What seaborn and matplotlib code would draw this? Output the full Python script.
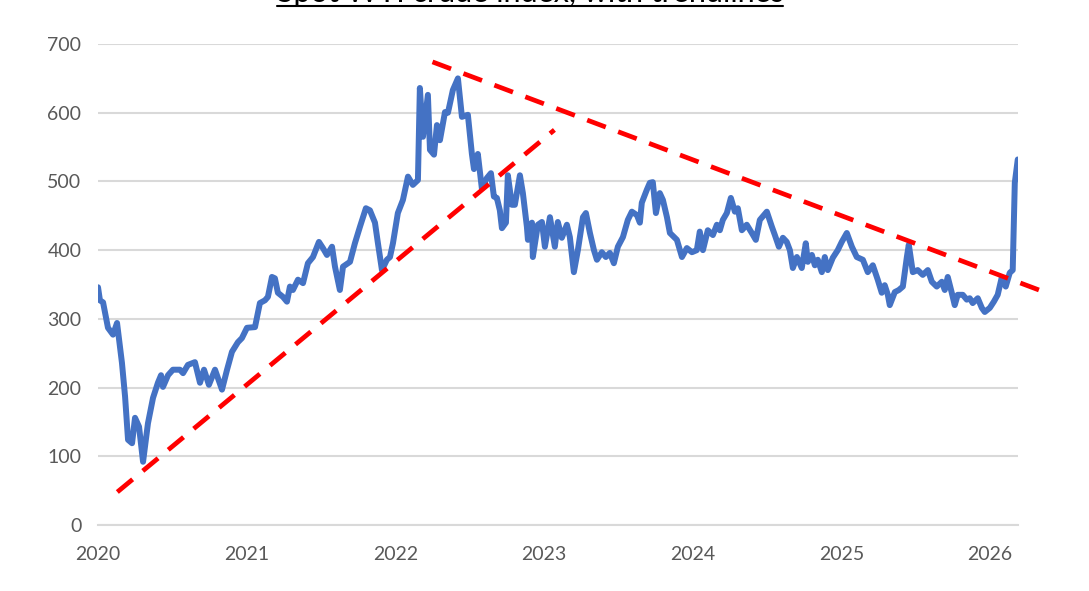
import pandas as pd
import numpy as np
import matplotlib.pyplot as plt
import seaborn as sns
from matplotlib.lines import Line2D

# --- data (decimal year, index value) ---
years = [
    2020.000, 2020.013, 2020.034, 2020.067, 2020.101, 2020.128, 2020.161, 2020.182,
    2020.202, 2020.229, 2020.249, 2020.276, 2020.303, 2020.336, 2020.370, 2020.403,
    2020.424, 2020.437, 2020.471, 2020.504, 2020.551, 2020.572, 2020.605, 2020.652,
    2020.686, 2020.713, 2020.746, 2020.787, 2020.834, 2020.868, 2020.901, 2020.941,
    2020.968, 2021.002, 2021.056, 2021.089, 2021.123, 2021.143, 2021.170, 2021.190,
    2021.210, 2021.244, 2021.271, 2021.291, 2021.311, 2021.345, 2021.379, 2021.412,
    2021.446, 2021.486, 2021.513, 2021.540, 2021.574, 2021.594, 2021.627, 2021.648,
    2021.695, 2021.728, 2021.762, 2021.802, 2021.829, 2021.863, 2021.883, 2021.910,
    2021.943, 2021.964, 2021.984, 2022.017, 2022.051, 2022.085, 2022.118, 2022.152,
    2022.165, 2022.186, 2022.219, 2022.233, 2022.260, 2022.280, 2022.300, 2022.334,
    2022.354, 2022.387, 2022.421, 2022.448, 2022.488, 2022.515, 2022.529, 2022.555,
    2022.582, 2022.616, 2022.643, 2022.663, 2022.683, 2022.703, 2022.717, 2022.744,
    2022.757, 2022.784, 2022.804, 2022.838, 2022.858, 2022.885, 2022.892, 2022.919,
    2022.925, 2022.959, 2022.986, 2023.006, 2023.040, 2023.073, 2023.093, 2023.120,
    2023.154, 2023.174, 2023.201, 2023.228, 2023.262, 2023.282, 2023.309, 2023.336,
    2023.356, 2023.389, 2023.416, 2023.443, 2023.470, 2023.497, 2023.531, 2023.564,
    2023.591, 2023.625, 2023.645, 2023.658, 2023.692, 2023.712, 2023.732, 2023.753,
    2023.779, 2023.800, 2023.827, 2023.847, 2023.894, 2023.928, 2023.961, 2023.995,
    2024.028, 2024.048, 2024.069, 2024.102, 2024.136, 2024.163, 2024.183, 2024.203,
    2024.230, 2024.257, 2024.284, 2024.304, 2024.331, 2024.364, 2024.398, 2024.425,
    2024.452, 2024.499, 2024.533, 2024.553, 2024.580, 2024.607, 2024.633, 2024.654,
    2024.674, 2024.701, 2024.734, 2024.761, 2024.775, 2024.802, 2024.822, 2024.842,
    2024.869, 2024.889, 2024.909, 2024.943, 2024.976, 2025.003, 2025.037, 2025.071,
    2025.104, 2025.145, 2025.178, 2025.212, 2025.245, 2025.272, 2025.292, 2025.313,
    2025.326, 2025.360, 2025.387, 2025.414, 2025.441, 2025.454, 2025.481, 2025.514,
    2025.548, 2025.582, 2025.609, 2025.642, 2025.676, 2025.696, 2025.716, 2025.743,
    2025.763, 2025.783, 2025.817, 2025.844, 2025.864, 2025.884, 2025.918, 2025.945,
    2025.965, 2025.999, 2026.026, 2026.052, 2026.079, 2026.106, 2026.133, 2026.153,
    2026.167, 2026.187,
]
index_values = [
    346, 327, 324, 287, 277, 294, 236, 187,
    124, 119, 156, 143, 92, 148, 185, 207,
    218, 201, 218, 226, 226, 221, 233, 237,
    207, 226, 204, 226, 197, 226, 252, 266,
    272, 287, 288, 323, 327, 332, 361, 359,
    338, 332, 325, 347, 342, 357, 352, 381,
    390, 412, 403, 393, 405, 376, 342, 376,
    383, 410, 434, 461, 458, 440, 410, 371,
    386, 390, 410, 454, 473, 507, 495, 502,
    636, 565, 626, 546, 539, 582, 560, 601,
    600, 633, 650, 594, 597, 540, 518, 540,
    490, 505, 512, 478, 476, 458, 432, 440,
    509, 466, 466, 509, 483, 434, 415, 440,
    390, 437, 441, 405, 448, 405, 441, 418,
    437, 419, 368, 400, 448, 454, 425, 400,
    386, 397, 390, 396, 381, 405, 419, 444,
    456, 451, 440, 469, 488, 498, 499, 454,
    483, 473, 448, 425, 415, 390, 403, 397,
    400, 427, 400, 429, 422, 437, 429, 444,
    454, 476, 456, 461, 429, 437, 425, 415,
    444, 456, 434, 422, 405, 418, 412, 400,
    374, 390, 374, 410, 383, 393, 378, 386,
    368, 390, 371, 389, 400, 412, 425, 405,
    390, 386, 368, 378, 357, 338, 349, 335,
    320, 339, 342, 347, 390, 408, 368, 371,
    364, 371, 354, 347, 354, 342, 361, 338,
    320, 335, 335, 328, 330, 323, 330, 316,
    310, 316, 325, 335, 360, 347, 367, 371,
    498, 532,
]

# trendline end points
rising_x = [2020.13, 2023.07]
rising_y = [48, 575]
falling_x = [2022.25, 2026.33]
falling_y = [674, 342]

title_text = "Spot WTI crude index, with trendlines"
year_ticks = [2020, 2021, 2022, 2023, 2024, 2025, 2026]
value_ticks = [0, 100, 200, 300, 400, 500, 600, 700]

df = pd.DataFrame({"year": years, "index": index_values})

sns.set_style("white")
plt.rcParams["font.family"] = ["Lato", "DejaVu Sans"]

fig = plt.figure(figsize=(10.89, 5.91), dpi=100)
ax = fig.add_axes([0.09, 0.1117, 0.845, 0.8138])

grid_col = "#d9d9d9"
text_col = "#595959"

sns.lineplot(data=df, x="year", y="index", ax=ax, color="#4472C4",
             linewidth=4.3, solid_joinstyle="round", solid_capstyle="round", zorder=3)
ax.plot(rising_x, rising_y, color="#FF0000", linewidth=3.4, dashes=(4.2, 2.8),
        zorder=4, clip_on=False)
ax.plot(falling_x, falling_y, color="#FF0000", linewidth=3.4, dashes=(4.2, 2.8),
        zorder=4, clip_on=False)

ax.set_xlim(2020, 2026.19)
ax.set_ylim(0, 700)
ax.set_xticks(year_ticks)
ax.set_xticklabels([str(y) for y in year_ticks])
ax.set_yticks(value_ticks)
ax.set_xlabel("")
ax.set_ylabel("")

ax.yaxis.grid(True, color=grid_col, linewidth=1.5)
ax.xaxis.grid(False)
ax.set_axisbelow(True)
for s in ["left", "top", "right"]:
    ax.spines[s].set_visible(False)
ax.spines["bottom"].set_color(grid_col)
ax.spines["bottom"].set_linewidth(1.5)
ax.spines["bottom"].set_zorder(2)
ax.tick_params(axis="x", direction="out", length=5, width=1.5, color=grid_col,
               labelsize=14, labelcolor=text_col, pad=10)
ax.tick_params(axis="y", length=0, labelsize=14, labelcolor=text_col, pad=12)

# title, sitting mostly above the figure edge as in the reference
t = fig.text(530 / 1089, 1 - 2 / 591, title_text, ha="center", va="baseline",
             fontsize=22, color="black")
fig.canvas.draw()
bb = t.get_window_extent(renderer=fig.canvas.get_renderer())
x0, x1 = bb.x0 / fig.bbox.width, bb.x1 / fig.bbox.width
fig.add_artist(Line2D([x0, x1], [1 - 5.5 / 591, 1 - 5.5 / 591],
                      transform=fig.transFigure, color="black", linewidth=1.5))

plt.savefig("out.png", dpi=100)
